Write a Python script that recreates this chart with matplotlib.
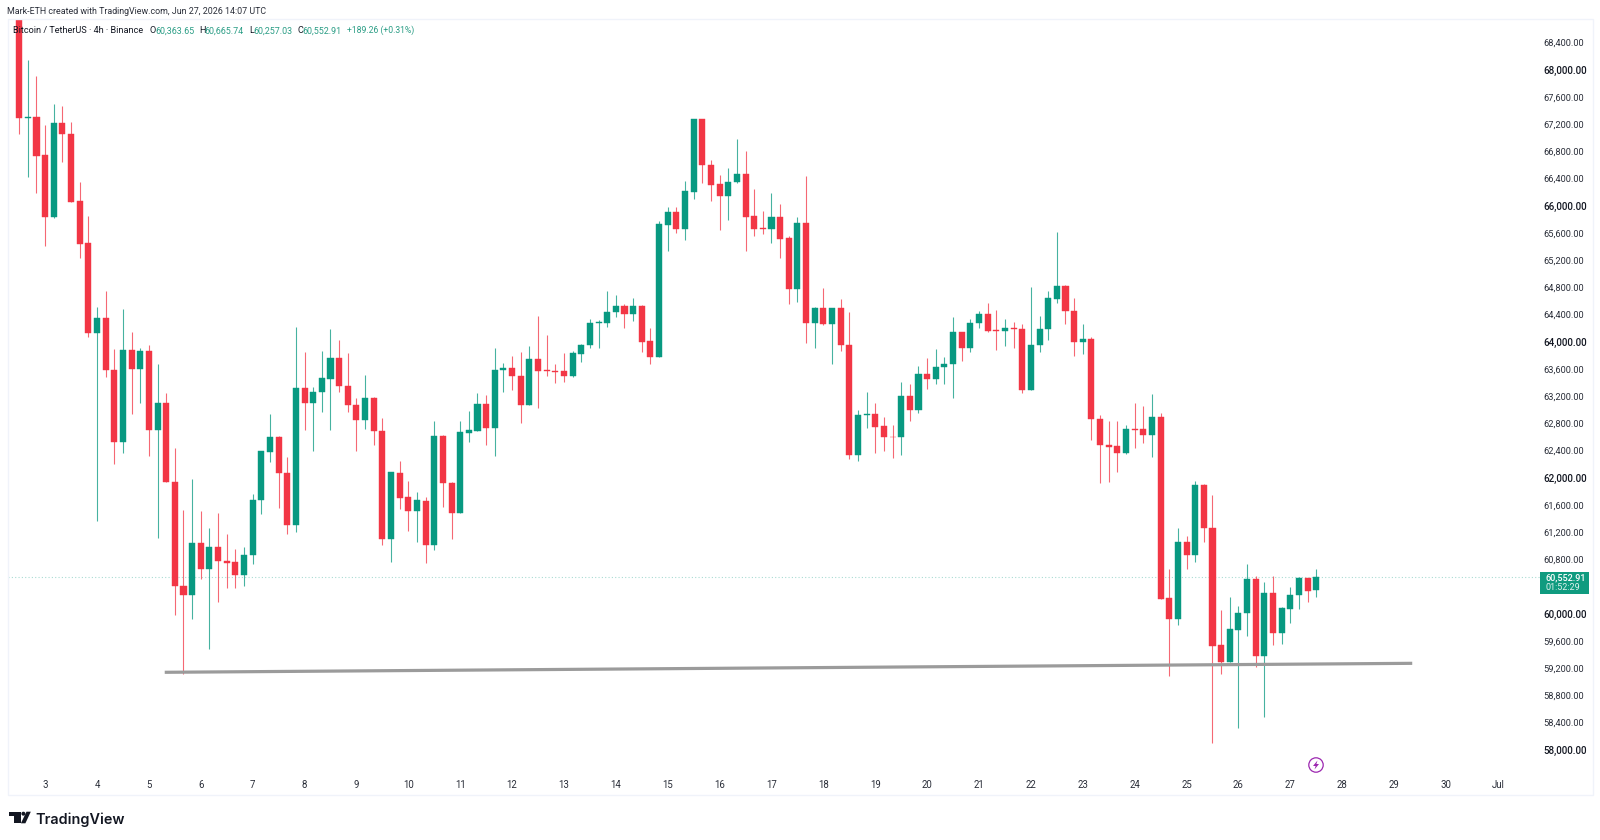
import matplotlib
matplotlib.use("Agg")
import matplotlib.pyplot as plt
from matplotlib.patches import Circle, Polygon, Rectangle

plt.rcParams['font.family'] = ['Roboto', 'DejaVu Sans']

# BTCUSDT 4h candles, oldest first
opens = [69100, 67300, 67319, 66760, 65844, 67226, 67069, 66079, 65466, 64138,
         64359, 63599, 62535, 63893, 63618, 63882, 62716, 63113, 61956, 60422,
         60290, 61054, 60668, 60996, 60785, 60775, 60579, 60874, 61687, 62397,
         62618, 62088, 61319, 63329, 63118, 63271, 63471, 63771, 63363, 63079,
         62863, 63191, 62701, 61118, 62088, 61726, 61529, 61676, 61025, 62628,
         61941, 61500, 62677, 62706, 63103, 62746, 63599, 63628, 63515, 63084,
         63765, 63594, 63584, 63584, 63515, 63838, 63966, 64290, 64290, 64451,
         64544, 64418, 64544, 64025, 63790, 65731, 65922, 65672, 66221, 67290,
         66613, 66330, 66157, 66363, 66481, 65863, 65682, 65672, 65853, 65540,
         64790, 65756, 64294, 64510, 64279, 64510, 63966, 62349, 62941, 62952,
         62775, 62618, 62613, 63216, 63010, 63540, 63466, 63638, 63682, 64153,
         63922, 64285, 64422, 64187, 64172, 64216, 64206, 63304, 63966, 64201,
         64643, 64834, 64466, 64006, 64054, 62874, 62496, 62481, 62374, 62731,
         62726, 62647, 62912, 60241, 59941, 61069, 60874, 61907, 61275, 59550,
         59304, 59780, 60021, 60525, 59393, 60315, 59735, 60088, 60294, 60540,
         60363.65]
closes = [67309, 67320, 66750, 65844, 67226, 67069, 66074, 65452, 64138, 64359,
          63599, 62535, 63893, 63618, 63882, 62716, 63109, 61956, 60422, 60290,
          61054, 60668, 60996, 60785, 60765, 60579, 60878, 61687, 62407, 62618,
          62088, 61319, 63329, 63118, 63271, 63477, 63771, 63356, 63079, 62863,
          63191, 62697, 61118, 62094, 61716, 61529, 61682, 61025, 62628, 61932,
          61500, 62682, 62716, 63103, 62746, 63599, 63628, 63510, 63084, 63765,
          63588, 63584, 63574, 63515, 63844, 63971, 64294, 64300, 64456, 64540,
          64418, 64540, 64015, 63790, 65746, 65922, 65672, 66231, 67290, 66613,
          66324, 66157, 66368, 66481, 65853, 65672, 65677, 65853, 65525, 64790,
          65756, 64294, 64510, 64279, 64510, 63966, 62349, 62941, 62947, 62765,
          62613, 62613, 63216, 63010, 63540, 63466, 63643, 63687, 64153, 63922,
          64294, 64422, 64176, 64172, 64216, 64201, 63304, 63966, 64206, 64653,
          64834, 64462, 64006, 64054, 62874, 62496, 62471, 62374, 62726, 62721,
          62647, 62912, 60235, 59941, 61069, 60874, 61907, 61275, 59540, 59304,
          59785, 60021, 60525, 59393, 60315, 59735, 60094, 60294, 60540, 60353,
          60552.91]
highs = [69200, 68157, 67922, 67201, 67510, 67481, 67246, 66368, 65863, 64529,
         64760, 63907, 64491, 64162, 63918, 63971, 63687, 63256, 62456, 61540,
         61991, 61525, 61271, 61491, 61182, 60966, 60991, 61771, 62410, 62952,
         62625, 62324, 64226, 63859, 63344, 63878, 64197, 64040, 63844, 63182,
         63525, 63200, 62888, 62100, 62260, 61966, 61804, 61726, 62853, 62640,
         61950, 62849, 62996, 63256, 63231, 63926, 63697, 63804, 63863, 63951,
         64393, 64113, 63687, 63844, 63874, 63981, 64353, 64334, 64760, 64706,
         64565, 64657, 64555, 64212, 65794, 65991, 66000, 66378, 67295, 67295,
         66682, 66466, 66574, 66996, 66819, 66256, 65937, 66197, 66040, 65569,
         65844, 66451, 64525, 64800, 64515, 64643, 64451, 63010, 63271, 63109,
         62912, 62785, 63418, 63388, 63657, 63771, 63907, 63794, 64373, 64162,
         64344, 64466, 64588, 64481, 64349, 64300, 64275, 64824, 64393, 64765,
         65624, 64849, 64662, 64275, 64088, 62941, 62849, 62849, 62785, 63118,
         63069, 63241, 62962, 60672, 61271, 61157, 61966, 61915, 61756, 60065,
         60265, 60128, 60746, 60574, 60485, 60574, 60118, 60412, 60559, 60545,
         60665.74]
lows = [67069, 66441, 66206, 65427, 65840, 66662, 66070, 65250, 64088, 61382,
        63491, 62212, 62382, 62952, 63109, 62338, 61124, 61950, 59996, 59128,
        59937, 60521, 59496, 60191, 60397, 60388, 60427, 60746, 61481, 62250,
        61574, 61187, 61221, 62716, 62412, 62985, 62716, 63279, 62981, 62412,
        62735, 62491, 61025, 60779, 61554, 61235, 61074, 60756, 60951, 61588,
        61109, 61495, 62540, 62700, 62496, 62338, 63279, 63304, 62824, 63080,
        63044, 63510, 63403, 63427, 63500, 63721, 63918, 63918, 64226, 64382,
        64221, 64324, 63868, 63684, 63785, 65353, 65618, 65510, 66118, 66344,
        66084, 65653, 65804, 66344, 65353, 65569, 65594, 65471, 65250, 64574,
        64594, 64000, 63918, 64260, 63691, 63882, 62294, 62265, 62741, 62382,
        62407, 62309, 62349, 62853, 62962, 63324, 63397, 63393, 63191, 63731,
        63859, 64212, 64157, 63893, 63951, 63926, 63256, 63300, 63868, 64040,
        64579, 64275, 63804, 63834, 62569, 61932, 61956, 62103, 62370, 62456,
        62530, 62324, 60230, 59103, 59849, 60676, 60779, 61069, 58109, 59132,
        59300, 58338, 59691, 59235, 58491, 59554, 59565, 59874, 60084, 60191,
        60257.03]

# 60,400 sits under the last price badge, so it gets no label
price_ticks = [p for p in range(58000, 68401, 400) if p != 60400]
day_labels = [str(d) for d in range(3, 31)] + ['Jul']
day_starts = [3 + 6 * k for k in range(len(day_labels))]

# horizontal support line drawn on the chart (candle index, price)
support_x = [16.83, 161.1]
support_y = [59153, 59285]

UP = '#089981'
DOWN = '#f23645'
W, H = 1600, 840

fig = plt.figure(figsize=(16, 8.4), dpi=100, facecolor='white')

# candle pane, placed by pixels so the day/price scales line up
ax = fig.add_axes([8 / W, 1 - 776 / H, (1541 - 8) / W, (776 - 19) / H])
ax.set_xlim((8 - 19.2) / 8.647, (1541 - 19.2) / 8.647)
ax.set_ylim(57628, 68760)
for s in ax.spines.values():
    s.set_visible(False)

xs = list(range(len(opens)))
colors = [UP if c >= o else DOWN for o, c in zip(opens, closes)]
ax.vlines(xs, lows, highs, colors=colors, linewidth=0.8, alpha=0.75, zorder=2)
bottoms = [min(o, c) for o, c in zip(opens, closes)]
heights = [abs(c - o) for o, c in zip(opens, closes)]
ax.bar(xs, heights, bottom=bottoms, width=0.7, color=colors, edgecolor=colors,
       linewidth=0.3, zorder=3)

# last price line
ax.axhline(closes[-1], color=UP, linewidth=0.8, linestyle=(0, (1, 2)), alpha=0.35, zorder=1)
# support line
ax.plot(support_x, support_y, color='#9b9b9b', linewidth=2.3, solid_capstyle='butt', zorder=4)

ax.yaxis.tick_right()
ax.set_yticks(price_ticks)
ax.set_yticklabels([f'{p:,.2f}' for p in price_ticks])
for tick, p in zip(ax.get_yticklabels(), price_ticks):
    tick.set_verticalalignment('center')
    if p % 2000 == 0:
        tick.set_fontweight(500)
        tick.set_color('#131722')
        tick.set_fontsize(7.1)
    else:
        tick.set_color('#2a2e39')
        tick.set_fontsize(6.7)
ax.set_xticks(day_starts)
ax.set_xticklabels(day_labels, fontsize=6.9, color='#2a2e39')
ax.tick_params(axis='both', length=0)
ax.tick_params(axis='y', pad=2)
ax.tick_params(axis='x', pad=3)

# overlay in pixel coordinates for header, badge and logo
ov = fig.add_axes([0, 0, 1, 1], facecolor='none')
ov.set_xlim(0, W)
ov.set_ylim(H, 0)
ov.axis('off')

ov.add_patch(Rectangle((7.5, 19), 1585, 776, fill=False, edgecolor='#f0f3fa', linewidth=1))

ov.text(7, 11, 'Mark-ETH created with TradingView.com, Jun 27, 2026 14:07 UTC',
        fontsize=6.42, color='#2a2e39', va='center')

LEGEND_GREEN = '#2a9d85'
ov.text(13.3, 30.7, 'Bitcoin / TetherUS · 4h · Binance', fontsize=6.6, color='#131722', va='center')
legend_items = [(149, 'O', 155, '60,363.65'), (199, 'H', 204.3, '60,665.74'),
                (249, 'L', 253.3, '60,257.03'), (297.7, 'C', 302.7, '60,552.91')]
for x1, letter, x2, value in legend_items:
    ov.text(x1, 30.7, letter, fontsize=6.6, color='#131722', va='center')
    ov.text(x2, 30.7, value, fontsize=6.4, color=LEGEND_GREEN, va='center')
ov.text(346.7, 30.7, '+189.26 (+0.31%)', fontsize=6.2, color=LEGEND_GREEN, va='center')

# last price badge with countdown
ov.add_patch(Rectangle((1540.3, 572), 48.7, 22.3, facecolor='#0f9b7f', edgecolor='none'))
ov.text(1546, 577.8, '60,552.91', fontsize=6.5, fontweight=500, color='white', va='center')
ov.text(1546, 587.8, '01:52:29', fontsize=6.5, color='#dff3ee', va='center')

# session break marker under the last candle
ov.add_patch(Circle((1316, 765), 7.2, facecolor='white', edgecolor='#9c27b0', linewidth=0.9))
ov.add_patch(Polygon([(1317.5, 760.5), (1313, 766), (1315.6, 766), (1314.5, 769.5),
                      (1319, 764), (1316.4, 764)], closed=True, facecolor='#9c27b0', edgecolor='none'))

# TradingView logo
ov.add_patch(Polygon([(9, 811.7), (20.7, 811.7), (20.7, 823.3), (14, 823.3), (14, 815.6), (9, 815.6)],
                     closed=True, facecolor='#131722', edgecolor='none'))
ov.add_patch(Circle((23.4, 813.7), 2, facecolor='#131722', edgecolor='none'))
ov.add_patch(Polygon([(26.5, 811.7), (30.8, 811.7), (25.4, 823.3), (20.9, 823.3)],
                     closed=True, facecolor='#131722', edgecolor='none'))
ov.text(35.5, 820, 'TradingView', fontsize=10.4, fontweight=600, color='#131722', va='center',
        family=['Inter', 'DejaVu Sans'])

fig.savefig('out.png', dpi=100)
